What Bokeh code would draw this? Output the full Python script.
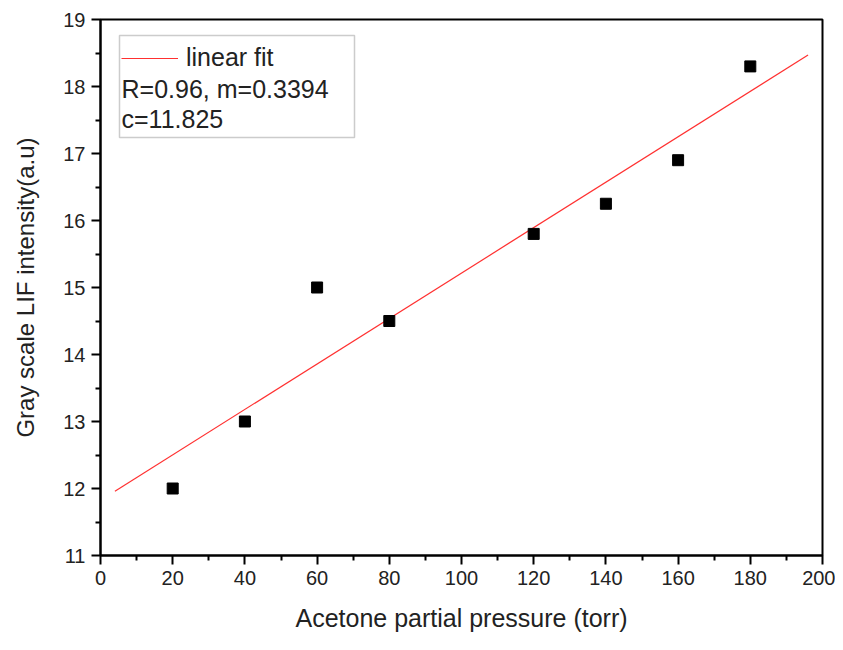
from bokeh.plotting import figure
from bokeh.models import (BoxAnnotation, Label, Legend, LegendItem, Range1d,
                          FixedTicker, Title)
from bokeh.embed import file_html
from bokeh.resources import INLINE

pressure = [20, 40, 60, 80, 120, 140, 160, 180]
intensity = [12.0, 13.0, 15.0, 14.5, 15.8, 16.25, 16.9, 18.3]
fit_x = [4, 196]
fit_y = [11.96, 18.47]
x_ticks = [0, 20, 40, 60, 80, 100, 120, 140, 160, 180, 200]
y_ticks = [11, 12, 13, 14, 15, 16, 17, 18, 19]
legend_lines = ["linear fit", "R=0.96, m=0.3394", "c=11.825"]
x_title = "Acetone partial pressure (torr)"
y_title = "Gray scale LIF intensity(a.u)"

FONT = "Liberation Sans"

p = figure(width=835, height=650, output_backend="svg", toolbar_location=None,
           x_range=Range1d(0, 200), y_range=Range1d(11, 19),
           min_border_left=100, min_border_right=13, min_border_top=19,
           min_border_bottom=95)
p.grid.visible = False
p.outline_line_color = "black"
p.outline_line_width = 2

fit = p.line(fit_x, fit_y, line_color="#ff3030", line_width=1.2)
p.scatter(pressure, intensity, marker="square", size=11, color="black")

for ax in (p.xaxis[0], p.yaxis[0]):
    ax.axis_line_width = 2
    ax.major_tick_line_width = 2
    ax.minor_tick_line_width = 2
    ax.major_tick_out = 9
    ax.major_tick_in = 0
    ax.minor_tick_out = 5
    ax.minor_tick_in = 0
    ax.major_label_text_font = FONT
    ax.major_label_text_font_size = "20px"
    ax.major_label_text_color = "#222222"
    ax.axis_label_text_font = FONT
    ax.axis_label_text_font_style = "normal"
    ax.axis_label_text_color = "#222222"

p.yaxis.axis_label_text_font_size = "24px"
p.xaxis.ticker = FixedTicker(ticks=x_ticks, minor_ticks=[x + 10 for x in x_ticks[:-1]])
p.yaxis.ticker = FixedTicker(ticks=y_ticks, minor_ticks=[y + 0.5 for y in y_ticks[:-1]])
p.yaxis.axis_label = y_title
p.yaxis.axis_label_standoff = 21
p.xaxis.major_label_standoff = 6
p.yaxis.major_label_standoff = 6

# x-axis title placed below the axis
p.add_layout(Title(text=x_title, align="center", text_font=FONT,
                   text_font_size="25px", text_font_style="normal",
                   text_color="#222222", standoff=28), "below")

# legend box (screen units within the frame)
box = BoxAnnotation(left=19, right=254, bottom=418, top=520,
                    left_units="screen", right_units="screen",
                    bottom_units="screen", top_units="screen",
                    fill_color="white", fill_alpha=1.0,
                    line_color="#555555", line_width=1.5)
p.add_layout(box)

legend = Legend(items=[LegendItem(label=legend_lines[0], renderers=[fit])],
                location=(21, 483), glyph_width=57, glyph_height=20,
                label_text_font=FONT, label_text_font_size="25px",
                label_text_color="#222222", label_height=20,
                background_fill_alpha=0, border_line_alpha=0,
                padding=0, margin=0, label_standoff=8)
p.add_layout(legend)

for i, txt in enumerate(legend_lines[1:]):
    p.add_layout(Label(x=21, y=467 - i * 30, x_units="screen", y_units="screen",
                       text=txt, text_font=FONT, text_font_size="25px",
                       text_color="#222222", text_baseline="middle"))

open("out.html", "w").write(file_html(p, INLINE))
